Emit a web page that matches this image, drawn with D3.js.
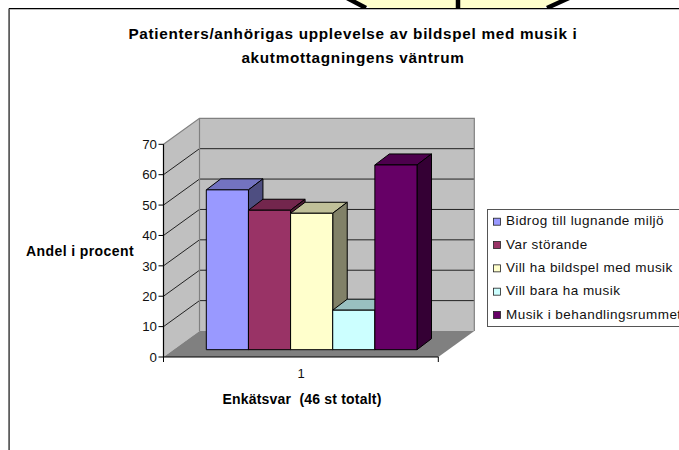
<!DOCTYPE html>
<html>
<head>
<meta charset="utf-8">
<script src="https://cdn.jsdelivr.net/npm/d3@7"></script>
<style>
  html, body { margin: 0; padding: 0; background: #fff; }
  svg { display: block; font-family: "Liberation Sans", Arial, sans-serif; }
</style>
</head>
<body>
<svg id="chart" width="679" height="450"></svg>
<script>
const titleLines = ["Patienters/anhörigas upplevelse av bildspel med musik i", "akutmottagningens väntrum"];
const yTitle = "Andel i procent";
const xTitle = "Enkätsvar  (46 st totalt)";
const category = "1";
const seriesNames = ["Bidrog till lugnande miljö", "Var störande", "Vill ha bildspel med musik", "Vill bara ha musik", "Musik i behandlingsrummet"];
const seriesValues = [52.6, 45.9, 44.9, 13, 60.8];
const yTicks = [0, 10, 20, 30, 40, 50, 60, 70];
const frontColors = ["#9999FF", "#993366", "#FFFFCC", "#CCFFFF", "#660066"];

const svg = d3.select("#chart");

const y = d3.scaleLinear().domain([0, 70]).range([357, 144.3]);
const xFloor = { left: 163.5, right: 438.3 };
const wallDx = 36, wallDy = -26;       // floor depth
const barDy = -7.3;                    // bars sit a bit into the floor
const barDx = 14.5, barTopDy = -11;    // bar depth

const x = d3.scaleBand().domain(seriesNames).range([206.3, 417]).padding(0);

const line = d3.line();
function poly(pts, fill, stroke, width) {
  return svg.append("path")
    .attr("d", line(pts) + "Z")
    .attr("fill", fill)
    .attr("stroke", stroke || "none")
    .attr("stroke-width", width || 1)
    .attr("stroke-linejoin", "round");
}

// piece of the neighbouring shape sticking in from the top
poly([[350, -3], [370, 8], [543, 8], [567, -3]], "#FFFFCC");
svg.append("path").attr("d", "M347,-2L366,8").attr("stroke", "#000").attr("stroke-width", 4.5);
svg.append("path").attr("d", "M569,-2L547,8").attr("stroke", "#000").attr("stroke-width", 4.5);
svg.append("path").attr("d", "M458,0V8").attr("stroke", "#000").attr("stroke-width", 4.5);

// chart area frame
svg.append("path").attr("d", "M679,9.5H9.5V450").attr("fill", "none").attr("stroke", "#bbb").attr("stroke-width", 1);
svg.append("path").attr("d", "M679,8.5H9V450").attr("fill", "none").attr("stroke", "#000").attr("stroke-width", 1);

// walls and floor
const yMax = y(70), yZero = y(0);
const bx = xFloor.left + wallDx, brx = xFloor.right + wallDx;
poly([[xFloor.left, yMax], [bx, yMax + wallDy], [bx, yZero + wallDy], [xFloor.left, yZero]], "#C0C0C0");
poly([[bx, yMax + wallDy], [brx, yMax + wallDy], [brx, yZero + wallDy], [bx, yZero + wallDy]], "#C0C0C0");

// gridlines
yTicks.slice(1, -1).forEach(t => {
  svg.append("path")
    .attr("d", line([[xFloor.left, y(t)], [bx, y(t) + wallDy], [brx, y(t) + wallDy]]))
    .attr("fill", "none").attr("stroke", "#222").attr("stroke-width", 1);
});
svg.append("path")
  .attr("d", line([[xFloor.left, yMax], [bx, yMax + wallDy], [brx, yMax + wallDy], [brx, yZero + wallDy]]))
  .attr("fill", "none").attr("stroke", "#808080").attr("stroke-width", 1.2);
svg.append("path")
  .attr("d", line([[bx, yMax + wallDy], [bx, yZero + wallDy]]))
  .attr("stroke", "#808080").attr("stroke-width", 1.2);

poly([[xFloor.left, yZero], [bx, yZero + wallDy], [brx, yZero + wallDy], [xFloor.right, yZero]], "#808080");

// bars, left to right so the next front covers the previous side
seriesNames.forEach((name, i) => {
  const c = d3.color(frontColors[i]);
  const x0 = x(name), x1 = x0 + x.bandwidth();
  const yTop = y(seriesValues[i]) + barDy, yBase = y(0) + barDy;
  const topColor = c.darker(0.8), sideColor = c.darker(1.9);
  poly([[x0, yTop], [x1, yTop], [x1 + barDx, yTop + barTopDy], [x0 + barDx, yTop + barTopDy]], topColor, "#000");
  poly([[x1, yTop], [x1 + barDx, yTop + barTopDy], [x1 + barDx, yBase + barTopDy], [x1, yBase]], sideColor, "#000");
  poly([[x0, yTop], [x1, yTop], [x1, yBase], [x0, yBase]], frontColors[i], "#000");
});

// axes
const axisGroup = svg.append("g");
axisGroup.append("path")
  .attr("d", line([[xFloor.left, yMax], [xFloor.left, yZero], [xFloor.right, yZero]]))
  .attr("fill", "none").attr("stroke", "#000").attr("stroke-width", 1.2);
axisGroup.append("path")
  .attr("d", `M${xFloor.left},${yZero}V${yZero + 5}M${xFloor.right},${yZero}V${yZero + 5}`)
  .attr("stroke", "#000");
yTicks.forEach(t => {
  axisGroup.append("path")
    .attr("d", `M${xFloor.left - 5},${y(t)}H${xFloor.left}`).attr("stroke", "#000");
  axisGroup.append("text")
    .attr("x", xFloor.left - 6.5).attr("y", y(t) + 4.7)
    .attr("text-anchor", "end").attr("font-size", 13.3).attr("fill", "#111")
    .text(t);
});
axisGroup.append("text")
  .attr("x", 301).attr("y", 378)
  .attr("text-anchor", "middle").attr("font-size", 13).attr("fill", "#111")
  .text(category);

// titles
svg.selectAll("text.title").data(titleLines).join("text")
  .attr("class", "title")
  .attr("x", 353).attr("y", (d, i) => 38.5 + i * 24)
  .attr("text-anchor", "middle").attr("font-size", 15.3).attr("font-weight", "bold")
  .attr("letter-spacing", 0.7)
  .text(d => d);
svg.append("text").attr("x", 80).attr("y", 256)
  .attr("text-anchor", "middle").attr("font-size", 14).attr("font-weight", "bold")
  .attr("letter-spacing", 0.4)
  .text(yTitle);
svg.append("text").attr("x", 302).attr("y", 404)
  .attr("text-anchor", "middle").attr("font-size", 14).attr("font-weight", "bold")
  .attr("letter-spacing", 0.2)
  .style("white-space", "pre")
  .text(xTitle);

// legend
svg.append("rect").attr("x", 487.5).attr("y", 209.5).attr("width", 200).attr("height", 117)
  .attr("fill", "#fff").attr("stroke", "#555");
const legendRow = d3.scalePoint().domain(seriesNames).range([221.7, 315]);
seriesNames.forEach((name, i) => {
  const ly = legendRow(name);
  svg.append("rect").attr("x", 493.5).attr("y", ly - 3.5).attr("width", 7).attr("height", 7)
    .attr("fill", frontColors[i]).attr("stroke", "#222").attr("stroke-width", 0.8);
  svg.append("text").attr("x", 506).attr("y", ly + 3.5)
    .attr("font-size", 13.5).attr("letter-spacing", 0.45).attr("fill", "#111").text(name);
});
</script>
</body>
</html>
